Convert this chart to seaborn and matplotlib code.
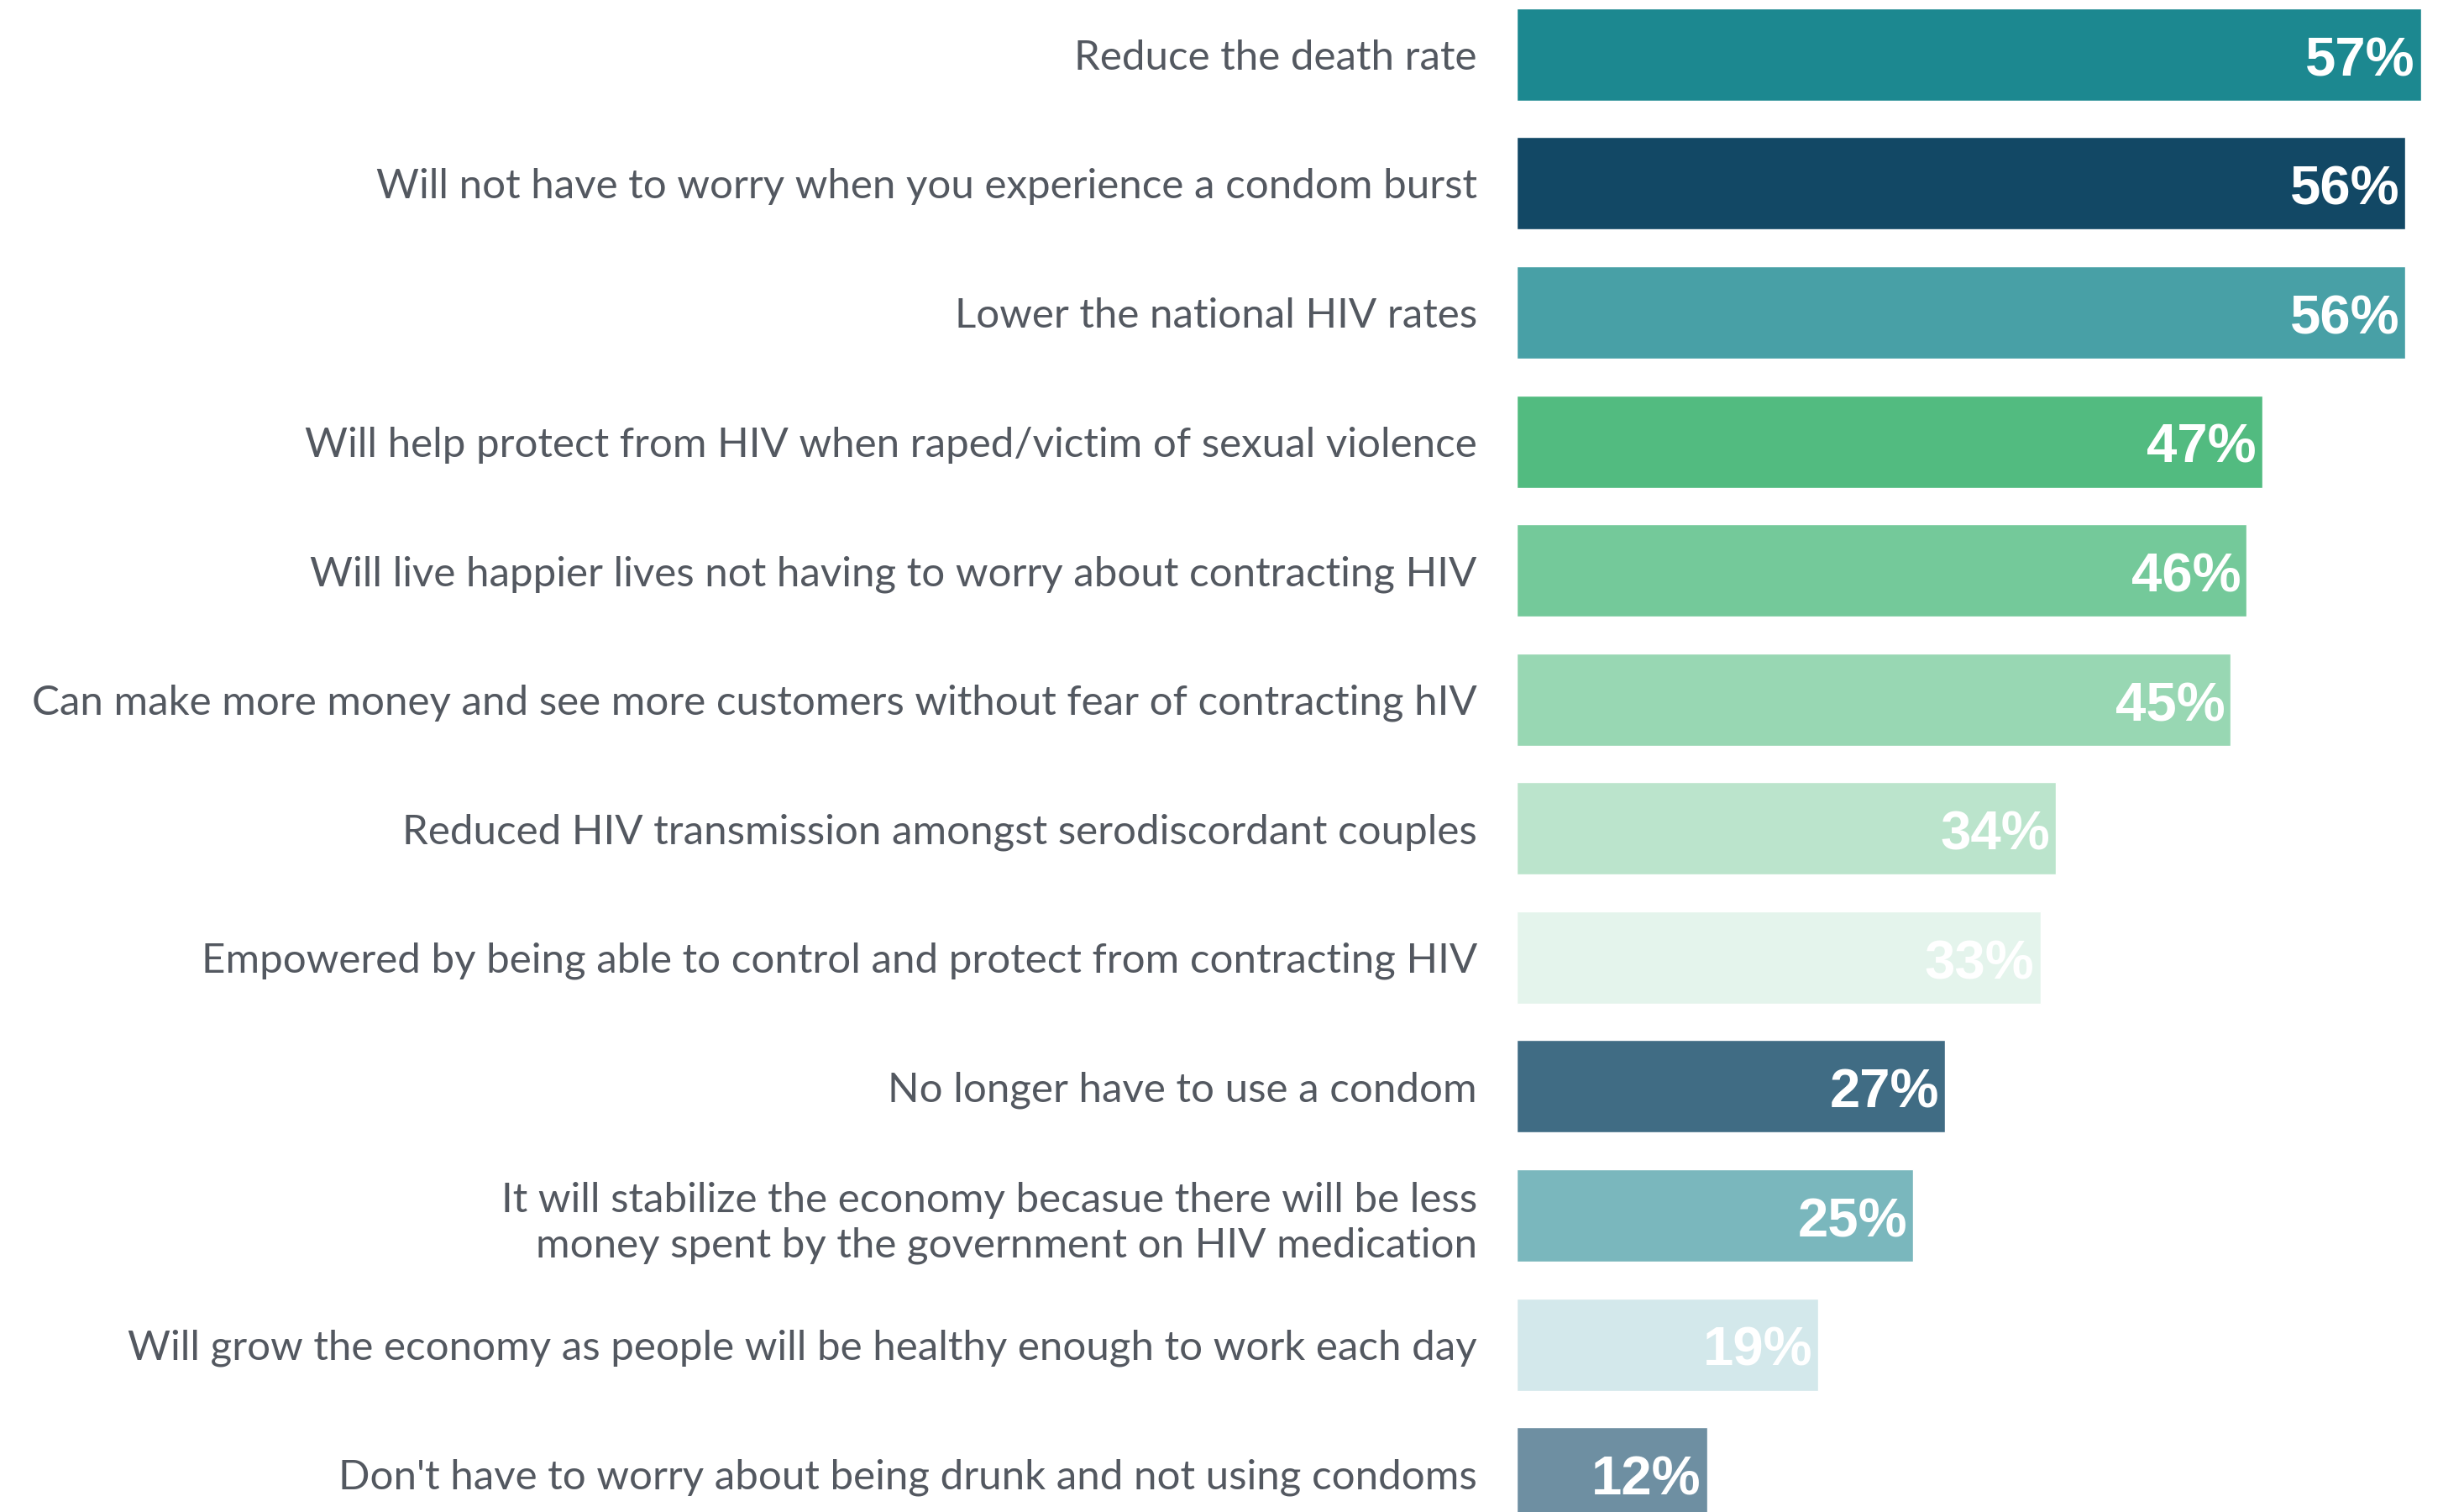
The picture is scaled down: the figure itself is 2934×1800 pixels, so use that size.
import pandas as pd
import matplotlib.pyplot as plt
import seaborn as sns

benefits = [
    "Reduce the death rate",
    "Will not have to worry when you experience a condom burst",
    "Lower the national HIV rates",
    "Will help protect from HIV when raped/victim of sexual violence",
    "Will live happier lives not having to worry about contracting HIV",
    "Can make more money and see more customers without fear of contracting hIV",
    "Reduced HIV transmission amongst serodiscordant couples",
    "Empowered by being able to control and protect from contracting HIV",
    "No longer have to use a condom",
    "It will stabilize the economy becasue there will be less\nmoney spent by the government on HIV medication",
    "Will grow the economy as people will be healthy enough to work each day",
    "Don't have to worry about being drunk and not using condoms",
]
shares = [57, 56, 56, 47, 46, 45, 34, 33, 27, 25, 19, 12]
bar_colors = [
    "#1c8890", "#124865", "#48a0a6", "#52bb80", "#74c99a", "#98d7b3",
    "#bbe4cc", "#e4f4ec", "#406c84", "#7ab7bd", "#d3e8eb", "#6e8fa2",
]

df = pd.DataFrame({"benefit": benefits, "share": shares})

sns.set_style("white")
plt.rcParams["font.family"] = ["Lato", "DejaVu Sans"]

fig = plt.figure(figsize=(29.34, 18), dpi=100)
ax = fig.add_axes([1806 / 2934, -31 / 1800, 1077 / 2934, 1843 / 1800])

sns.barplot(data=df, y="benefit", x="share", hue="benefit", palette=bar_colors,
            legend=False, width=0.716, saturation=1, ax=ax)

ax.set_xlim(0, 57)
ax.set_ylim(11.5, -0.5)

# value labels inside the bar ends
for i, v in enumerate(shares):
    ax.annotate(f"{v}%", xy=(v, i), xytext=(-5, -6), textcoords="offset points",
                ha="right", va="center", color="white",
                fontsize=47, fontweight="bold", family="Liberation Sans")

ax.set_xlabel("")
ax.set_ylabel("")
ax.set_xticks([])
ax.tick_params(axis="y", length=0, pad=34, labelsize=35.5, labelcolor="#535860")
for lab in ax.get_yticklabels():
    lab.set_linespacing(1.25)
sns.despine(ax=ax, left=True, bottom=True)

fig.savefig("out.png", dpi=100)
